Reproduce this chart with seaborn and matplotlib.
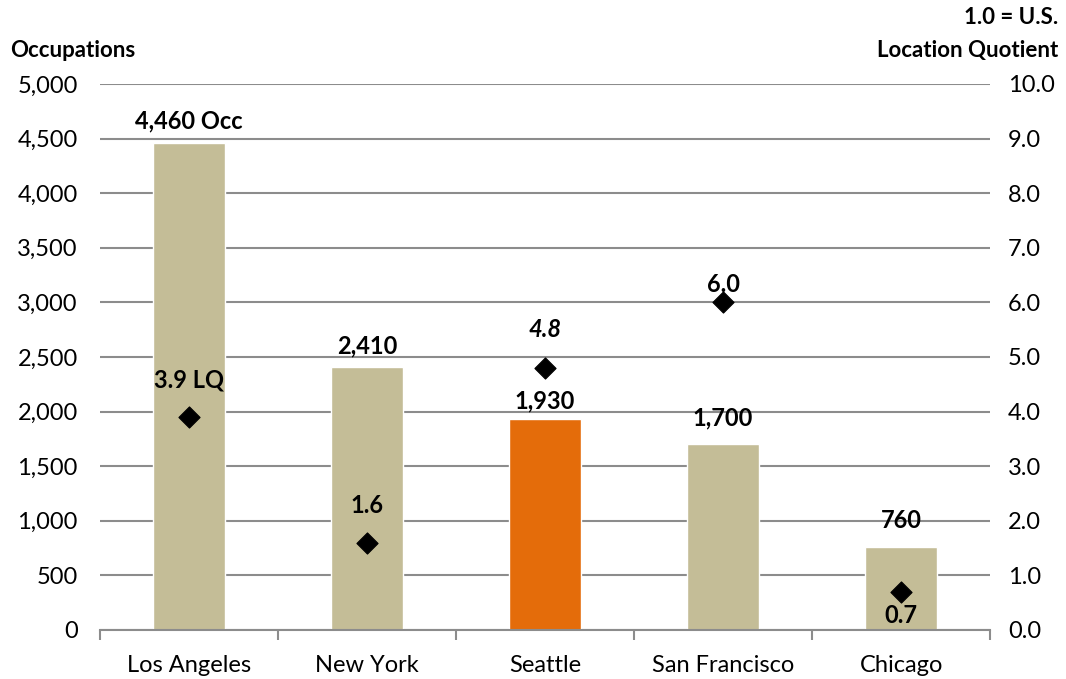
import numpy as np
import pandas as pd
import matplotlib
matplotlib.use("Agg")
import matplotlib.pyplot as plt
import seaborn as sns

# data
cities = ["Los Angeles", "New York", "Seattle", "San Francisco", "Chicago"]
occupations = [4460, 2410, 1930, 1700, 760]
lq = [3.9, 1.6, 4.8, 6.0, 0.7]
bar_labels = ["4,460 Occ", "2,410", "1,930", "1,700", "760"]
lq_labels = ["3.9 LQ", "1.6", "4.8", "6.0", "0.7"]

bar_colors = ["#C4BD97", "#C4BD97", "#E46C0A", "#C4BD97", "#C4BD97"]

sns.set_theme(style="white")
plt.rcParams["font.family"] = ["Lato", "DejaVu Sans"]
plt.rcParams["text.color"] = "black"
plt.rcParams["xtick.color"] = "black"
plt.rcParams["ytick.color"] = "black"

df = pd.DataFrame({"city": cities, "occ": occupations, "lq": lq})

fig = plt.figure(figsize=(10.66, 6.79), dpi=100)
ax = fig.add_axes([0.0938, 0.0722, 0.835, 0.8041])

sns.barplot(data=df, x="city", y="occ", hue="city", palette=bar_colors,
            legend=False, width=0.4, saturation=1, ax=ax, zorder=2)

ax.set_ylim(0, 5000)
ax.set_xlim(-0.5, 4.5)
ax.set_yticks(np.arange(0, 5001, 500))
ax.set_yticklabels([f"{v:,}" for v in range(0, 5001, 500)])
ax.yaxis.grid(True, color="#8C8C8C", linewidth=1.5, zorder=0)
ax.set_axisbelow(True)
ax.set_xlabel("")
ax.set_ylabel("")
for s in ["top", "left", "right"]:
    ax.spines[s].set_visible(False)
ax.spines["bottom"].set_color("#8C8C8C")
ax.spines["bottom"].set_linewidth(1.5)
ax.set_xticks(np.arange(-0.5, 5, 1), minor=True)
ax.tick_params(axis="x", which="minor", length=7, width=1.5, color="#8C8C8C", bottom=True)
ax.tick_params(axis="x", which="major", length=0, labelsize=17, pad=18)
ax.tick_params(axis="y", length=0, labelsize=17, pad=16)

# secondary axis with location quotient
ax2 = ax.twinx()
sns.scatterplot(data=df, x="city", y="lq", marker="D", s=115, color="black",
                edgecolor="black", ax=ax2, zorder=3)
ax2.set_ylim(0, 10)
ax2.set_yticks(np.arange(0, 10.1, 1))
ax2.set_yticklabels([f"{v:.1f}" for v in np.arange(0, 10.1, 1)])
ax2.set_ylabel("")
for s in ["top", "left", "right", "bottom"]:
    ax2.spines[s].set_visible(False)
ax2.tick_params(axis="y", length=0, labelsize=17, pad=13)

# bar value labels
bar_offsets = [16, 15, 13, 19, 19]
for i, (v, lab) in enumerate(zip(occupations, bar_labels)):
    ax.annotate(lab, (i, v), xytext=(0, bar_offsets[i]), textcoords="offset points",
                ha="center", va="center", fontsize=17, fontweight="bold", zorder=4)

# LQ labels
lq_offsets = [27, 27, 28, 13, -17]
for i, (v, lab) in enumerate(zip(lq, lq_labels)):
    style = "italic" if cities[i] == "Seattle" else "normal"
    ax2.annotate(lab, (i, v), xytext=(0, lq_offsets[i]), textcoords="offset points",
                 ha="center", va="center", fontsize=17, fontweight="bold",
                 fontstyle=style, zorder=4)

fig.text(0.0094, 0.926, "Occupations", fontsize=16, fontweight="bold", ha="left", va="center")
fig.text(0.993, 0.974, "1.0 = U.S.", fontsize=16, fontweight="bold", ha="right", va="center")
fig.text(0.993, 0.926, "Location Quotient", fontsize=16, fontweight="bold", ha="right", va="center")

fig.savefig("out.png", dpi=100)
